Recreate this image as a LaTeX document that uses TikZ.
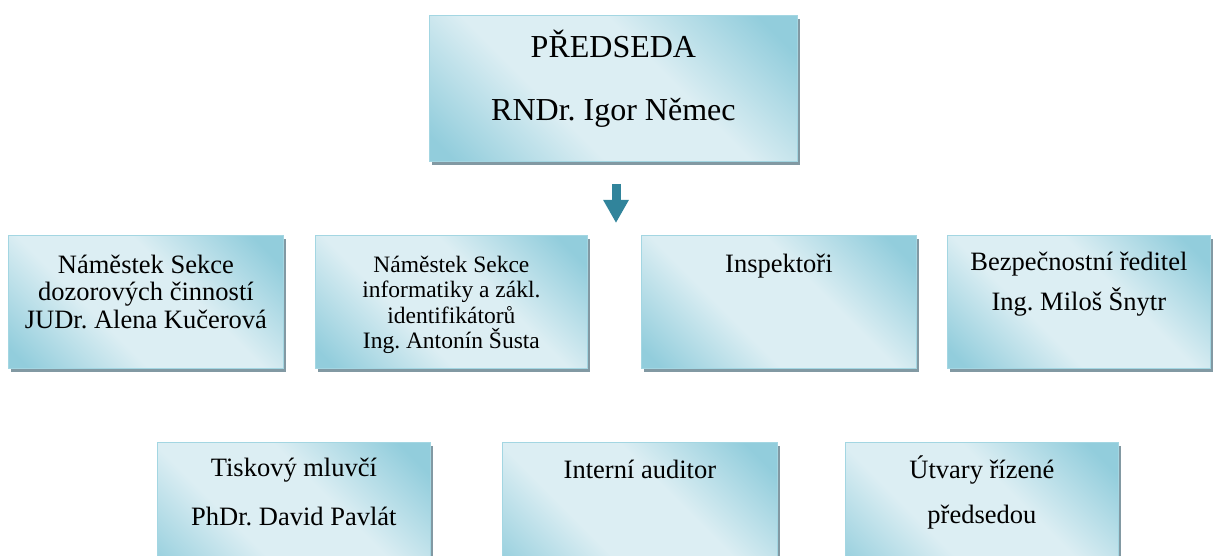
\documentclass[tikz,border=0pt]{standalone}
\usepackage{fontspec}
\setmainfont{Liberation Serif}
\usetikzlibrary{arrows.meta,shadows}
\frenchspacing

\definecolor{boxdark}{HTML}{92CDDC}
\definecolor{boxlight}{HTML}{DCEEF3}
\definecolor{boxedge}{HTML}{A3D6E2}
\definecolor{boxshadow}{HTML}{8299A3}
\definecolor{arrowteal}{HTML}{31849B}

\pgfdeclarehorizontalshading{panel}{100bp}{color(0bp)=(boxdark); color(18bp)=(boxdark); color(39bp)=(boxlight); color(59bp)=(boxlight); color(80bp)=(boxdark); color(100bp)=(boxdark)}

% text block: height, width, first baseline, lines
\newcommand{\orgcell}[4]{\begin{minipage}[t][#1][t]{#2}\centering\lineskiplimit=-\maxdimen\rule{0pt}{#3}#4\end{minipage}}

\tikzset{
  orgbox/.style={draw=boxedge, line width=0.8pt, shading=panel, shading angle=45,
    inner sep=0pt, anchor=north west,
    drop shadow={shadow xshift=3pt, shadow yshift=-4pt, fill=boxshadow, opacity=1}},
  bigtext/.style={font=\fontsize{32}{63}\selectfont},
  deptext/.style={font=\fontsize{26.5}{27.5}\selectfont},
  smalltext/.style={font=\fontsize{23.5}{25.3}\selectfont},
  blockarrow/.style={draw=arrowteal, line width=9pt, -{Triangle[width=24pt,length=23pt]}}
}

\begin{document}
\begin{tikzpicture}[x=1pt,y=-1pt]
    \useasboundingbox (0,0) rectangle (1213,556);
    % Predseda
    \node[orgbox, bigtext] (chair) at (429,15)
        {\orgcell{146pt}{368pt}{42pt}{PŘEDSEDA\\RNDr. Igor Němec}};
    % Sipka
    \coordinate (arrtop) at (616,184);
    \coordinate (arrtip) at (616,223);
    \draw[blockarrow] (arrtop) -- (arrtip);
    % Druha rada
    \node[orgbox, deptext] (deputyA) at (8,235)
        {\orgcell{133pt}{275pt}{38pt}{Náměstek Sekce\\dozorových činností\\JUDr. Alena Kučerová}};
    \node[orgbox, smalltext] (deputyB) at (315,235)
        {\orgcell{133pt}{272pt}{37pt}{Náměstek Sekce\\informatiky a zákl.\\identifikátorů\\Ing. Antonín Šusta}};
    \node[orgbox, deptext] (inspectors) at (641,235)
        {\orgcell{133pt}{275pt}{37pt}{Inspektoři}};
    \node[orgbox, deptext] (security) at (947,235)
        {\orgcell{133pt}{263pt}{35pt}{Bezpečnostní ředitel\\[12.5pt]Ing. Miloš Šnytr}};
    % Treti rada
    \node[orgbox, deptext] (press) at (157,442)
        {\orgcell{150pt}{273pt}{34pt}{Tiskový mluvčí\\[21.5pt]PhDr. David Pavlát}};
    \node[orgbox, deptext] (auditor) at (502,442)
        {\orgcell{150pt}{275pt}{36pt}{Interní auditor}};
    \node[orgbox, deptext] (units) at (845,442)
        {\orgcell{150pt}{273pt}{36pt}{Útvary řízené\\[17.5pt]předsedou}};
\end{tikzpicture}
\end{document}
